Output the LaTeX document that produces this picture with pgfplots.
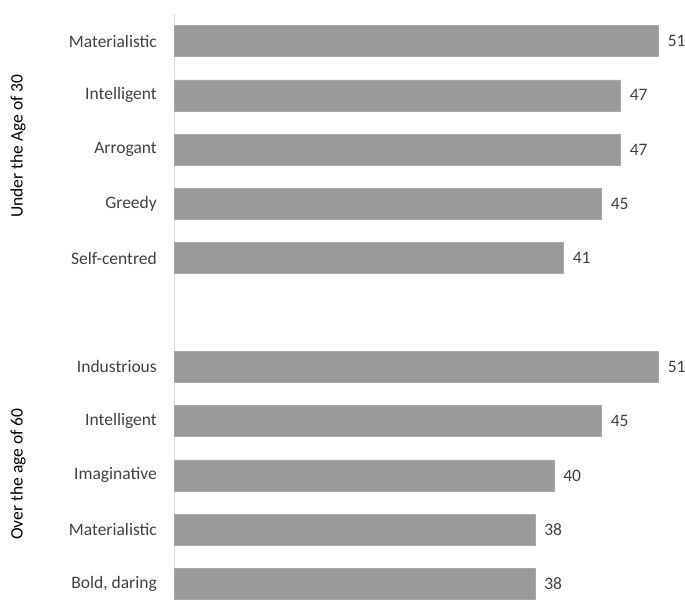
\documentclass[border=0pt]{standalone}
\usepackage{pgfplots}
\pgfplotsset{compat=1.18}
\usepackage{fontspec}
\setmainfont{Carlito}
\definecolor{barfill}{HTML}{9A9A9A}
\definecolor{bardraw}{HTML}{A8A8A8}
\definecolor{txt}{HTML}{404040}
\definecolor{axline}{HTML}{D9D9D9}
\begin{document}
\begin{tikzpicture}
\path[use as bounding box] (0,0) rectangle (685pt,604pt);
\begin{axis}[
  at={(174pt,3.7pt)}, anchor=south west,
  scale only axis, width=513pt, height=586.4pt,
  xmin=0, xmax=54, ymin=-0.5, ymax=10.3,
  y dir=reverse,
  xbar, bar width=31pt,
  hide x axis,
  axis y line*=left,
  axis line style={draw=axline, line width=1pt},
  major tick length=0pt,
  /pgf/number format/assume math mode=true,
  ytick={0,1,2,3,4,6,7,8,9,10},
  yticklabels={Materialistic,Intelligent,Arrogant,Greedy,Self-centred,Industrious,Intelligent,Imaginative,Materialistic,{Bold, daring}},
  y tick label style={font=\fontsize{17.5}{21}\selectfont, text=txt, inner sep=0pt, xshift=-17pt},
  nodes near coords,
  every node near coord/.append style={font=\fontsize{17.5}{21}\selectfont, text=txt, inner sep=0pt, xshift=9pt},
]
\addplot[fill=barfill, draw=bardraw, line width=0.6pt] coordinates {
  (51,0) (47,1) (47,2) (45,3) (41,4)
  (51,6) (45,7) (40,8) (38,9) (38,10)
};
\end{axis}
\node[rotate=90, font=\fontsize{17.5}{21}\selectfont, text=black] at (18pt,458pt) {Under the Age of 30};
\node[rotate=90, font=\fontsize{17.5}{21}\selectfont, text=black] at (18pt,130pt) {Over the age of 60};
\end{tikzpicture}
\end{document}
